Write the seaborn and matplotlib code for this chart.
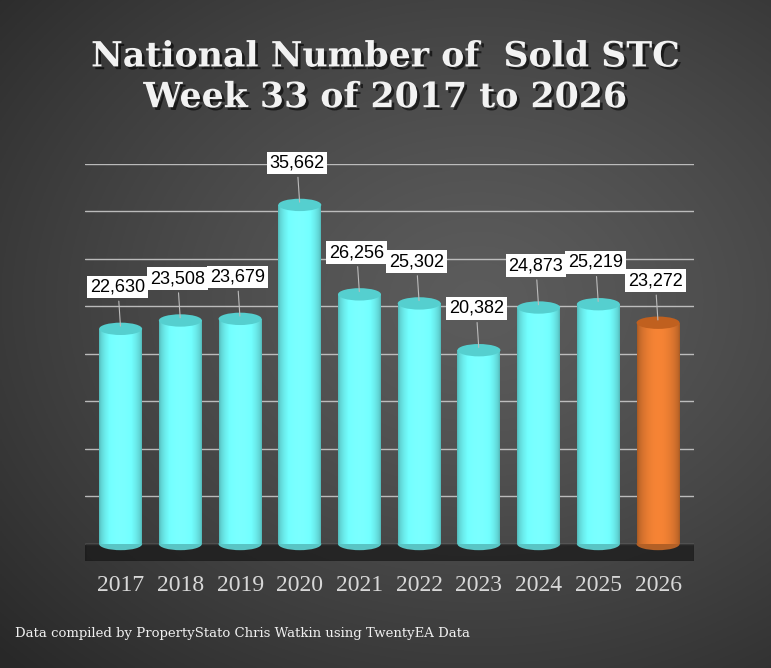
import numpy as np
import pandas as pd
import matplotlib
matplotlib.use("Agg")
import matplotlib.pyplot as plt
import matplotlib.patheffects as pe
import seaborn as sns
from matplotlib.patches import Ellipse

# data
years = ["2017", "2018", "2019", "2020", "2021", "2022", "2023", "2024", "2025", "2026"]
sold_stc = [22630, 23508, 23679, 35662, 26256, 25302, 20382, 24873, 25219, 23272]
bar_colors = ["#6ff6f6"] * 9 + ["#e07830"]
cap_colors = ["#55cfcf"] * 9 + ["#c0601f"]

title = "National Number of  Sold STC\nWeek 33 of 2017 to 2026"
footer = "Data compiled by PropertyStato Chris Watkin using TwentyEA Data"

df = pd.DataFrame({"year": years, "sold": sold_stc})

sns.set_theme(style="dark")
plt.rcParams["font.family"] = ["DejaVu Serif"]

fig = plt.figure(figsize=(7.71, 6.68), dpi=100)

# dark radial gradient background
bg = fig.add_axes([0, 0, 1, 1], zorder=0)
gx, gy = np.meshgrid(np.linspace(0, 1, 400), np.linspace(0, 1, 400))
r = np.sqrt(((gx - 0.62) / 1.0) ** 2 + ((gy - 0.55) / 0.9) ** 2)
shade = 0.36 - 0.20 * np.clip(r / 0.85, 0, 1) ** 1.3
bg.imshow(np.dstack([shade] * 3), extent=[0, 1, 0, 1], origin="lower", aspect="auto")
bg.set_axis_off()

ax = fig.add_axes([0.11, 0.16, 0.79, 0.595], zorder=1)
ax.patch.set_alpha(0)

sns.barplot(data=df, x="year", y="sold", hue="year", palette=bar_colors,
            legend=False, width=0.72, ax=ax, zorder=3, linewidth=0)
bars = list(ax.patches)

ax.set_ylim(-1800, 40000)
ax.set_yticks(np.arange(0, 40001, 5000))
ax.yaxis.grid(True, color="#d0d0d0", linewidth=1.0, alpha=0.85)
ax.xaxis.grid(False)
ax.set_yticklabels([])
ax.tick_params(axis="y", length=0)
ax.tick_params(axis="x", length=0, pad=10, labelsize=17, colors="#d8d8d8")
for lbl in ax.get_xticklabels():
    lbl.set_fontfamily("Liberation Serif")
ax.set_xlabel("")
ax.set_ylabel("")
for s in ax.spines.values():
    s.set_visible(False)

# floor shadow under the cylinders
ax.axhspan(-1800, 0, color="#181818", alpha=0.7, zorder=1)

cap_h = 1300
for i, patch in enumerate(bars):
    x0 = patch.get_x()
    w = patch.get_width()
    h = patch.get_height()
    # cylinder shading: horizontal gradient clipped to the bar
    grad = np.linspace(0, 1, 64)
    prof = 0.75 + 0.35 * np.sin(np.pi * grad) ** 0.6
    base = np.array(matplotlib.colors.to_rgb(bar_colors[i]))
    img = np.clip(base[None, None, :] * prof[None, :, None], 0, 1)
    im = ax.imshow(img, extent=[x0, x0 + w, 0, h], aspect="auto", zorder=3.5)
    im.set_clip_path(patch)
    # rounded bottom and top cap
    ax.add_patch(Ellipse((x0 + w / 2, 0), w, cap_h, color=base * 0.8, zorder=3.4, lw=0))
    ax.add_patch(Ellipse((x0 + w / 2, h), w, cap_h, color=cap_colors[i], zorder=4, lw=0))
    # value label in white box with leader line
    ax.annotate(f"{sold_stc[i]:,}", xy=(x0 + w / 2, h), xytext=(-2, 24),
                textcoords="offset points", ha="center", va="bottom",
                fontsize=13, family="Liberation Sans", color="black", zorder=6 + i,
                bbox=dict(boxstyle="square,pad=0.16", fc="white", ec="none"),
                arrowprops=dict(arrowstyle="-", color="#bbbbbb", lw=0.8))

ax.set_xlim(-0.6, len(years) - 0.4)

shadow = [pe.withSimplePatchShadow(offset=(2, -2), shadow_rgbFace="black", alpha=0.6)]
fig.text(0.5, 0.885, title, ha="center", va="center", fontsize=25,
         fontweight="bold", color="#f2f2f2", family="DejaVu Serif",
         linespacing=1.25, path_effects=shadow)
fig.text(0.02, 0.052, footer, ha="left", va="center", fontsize=9.5,
         color="#f0f0f0", family="DejaVu Serif")

fig.savefig("out.png", dpi=100)
